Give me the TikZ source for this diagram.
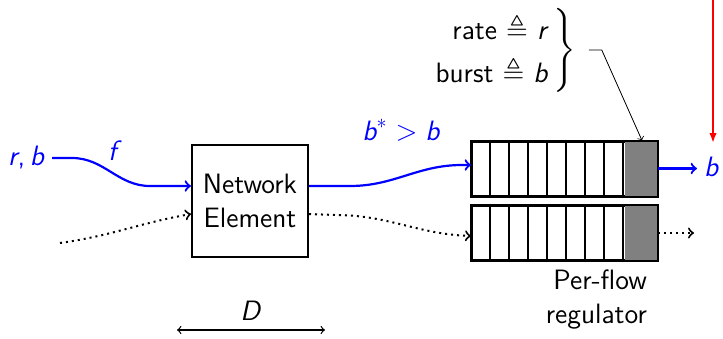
\documentclass[tikz,border=0pt]{standalone}
\usepackage{amsmath}
\usepackage{amssymb}
\renewcommand{\familydefault}{\sfdefault}
\usetikzlibrary{arrows.meta, positioning, calc}

\newcommand{\vr}[1]{\textit{#1}}

\tikzset{
    flow/.style={blue, line width=1.1pt},
    other/.style={black, line width=1pt, dotted},
    queue/.style={draw, line width=1pt, inner sep=0pt, minimum width=92.5pt, minimum height=27pt},
}

\begin{document}
\begin{tikzpicture}[>=to, x=0.5pt, y=-0.5pt, font=\fontsize{14}{17}\selectfont]
    \path[use as bounding box] (0, 0) rectangle (723, 338);

    % network element and the two regulator queues
    \node[draw, line width=1pt, minimum width=58pt, minimum height=56pt, align=center] (ne) at (250, 201) {Network\\Element};
    \node[queue] (qa) at (564.5, 168.5) {};
    \node[queue] (qb) at (564.5, 233) {};
    \foreach \q in {qa, qb} {
        \fill[gray] ($(\q.north east)+(-33,0)$) rectangle (\q.south east);
        \foreach \i in {1,...,8} {
            \draw[line width=1pt] ($(\q.north west)+(\i*19,0)$) -- ($(\q.south west)+(\i*19,0)$);
        }
        \draw[line width=1pt] (\q.north west) rectangle (\q.south east);
    }

    % labels
    \node[blue, anchor=east] (rb) at (52, 158) {\vr{r},\,\vr{b}};
    \node[blue] (fl) at (115, 151) {\vr{f}};
    \node[blue] (bs) at (401, 130) {$\vr{b}^{*} > \vr{b}$};
    \node[blue, anchor=west] (bo) at (697, 167) {\vr{b}};
    \node[align=right, anchor=east, inner sep=0pt] (par) at (549, 49) {rate $\triangleq$ \vr{r}\\[4.5pt] burst $\triangleq$ \vr{b}};
    \node[anchor=west, inner sep=0pt] (brc) at (551, 50) {$\left.\rule[-16pt]{0pt}{32pt}\right\}$};
    \node[align=right, anchor=east] (reg) at (654, 300) {Per-flow\\regulator};

    % flows
    \coordinate (nein) at ($(ne.west)+(0,-15)$);
    \coordinate (neout) at ($(ne.east)+(0,-15)$);
    \coordinate (nedin) at ($(ne.west)+(0,13)$);
    \coordinate (nedout) at ($(ne.east)+(0,13)$);
    \draw[flow, ->] (rb.east) -- (72, 158) to[out=0, in=180] (150, 186) -- (nein);
    \draw[flow, ->] (neout) -- (350, 186) to[out=0, in=180] (462, 165) -- (qa.west |- 0, 165);
    \draw[flow, ->] (qa.east) -- (qa.east -| bo.west);
    \draw[other, ->] (60, 243) to[out=8, in=190] (nedin);
    \draw[other, ->] (nedout) -- (335, 215) to[out=0, in=178] (qb.west |- 0, 236);
    \draw[other, ->] (qb.east) -- ++(36, 0);

    % configuration pointer and red signal
    \draw[thin, ->] ($(brc.east)+(12,0)$) -- ++(13,0) -- ($(qa.north east)+(-16,0)$);
    \coordinate (sig) at (713, 0);
    \draw[red, line width=1.1pt, -{Latex[length=5pt]}] (sig) -- (713, 143);

    % delay span
    \draw[semithick, <->] (177, 330) -- (325, 330) node[midway, above=1pt] (dl) {\vr{D}};
\end{tikzpicture}
\end{document}
